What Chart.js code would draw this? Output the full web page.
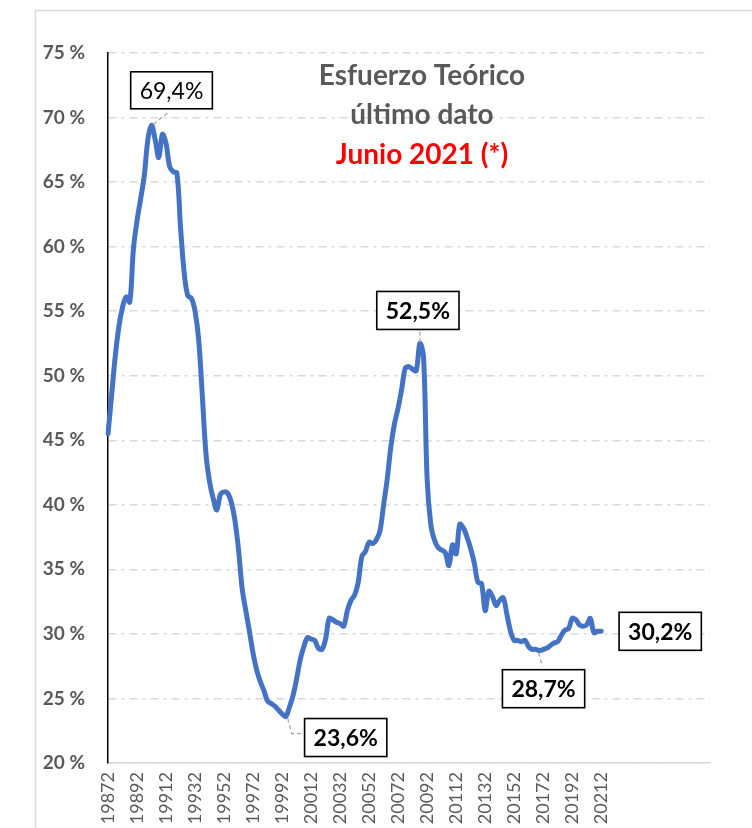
<!DOCTYPE html>
<html>
<head>
<meta charset="utf-8">
<script src="https://cdn.jsdelivr.net/npm/chart.js@4.4.0/dist/chart.umd.min.js"></script>
<style>
  html, body { margin: 0; padding: 0; background: #fff; }
  #wrap { width: 752px; height: 828px; position: relative; }
</style>
</head>
<body>
<div id="wrap"><canvas id="esfuerzo" width="752" height="828"></canvas></div>
<script>
// trimestres desde 1987 T2; el eje sigue vacio hasta 2028 T4
const firstYear = 1987, firstQuarter = 2, nQuarters = 167;
const quarters = [];
for (let k = 0; k < nQuarters; k++) {
    const q = firstQuarter - 1 + k;
    quarters.push(String(firstYear + Math.floor(q / 4)) + String(q % 4 + 1));
}

// etiquetas visibles del eje X (cada 8 trimestres)
const tickLabels = ['19872','19892','19912','19932','19952','19972','19992','20012','20032',
    '20052','20072','20092','20112','20132','20152','20172','20192','20212'];

// esfuerzo teorico (%), 1987 T2 .. 2021 T2
const esfuerzo = [
    45.5, 48.5, 51.5, 53.8, 55.3, 56.1, 55.7, 59.8, 62.0, 63.7,
    65.5, 68.3, 69.4, 68.3, 66.9, 68.7, 68.0, 66.2, 65.8, 65.7,
    61.5, 58.0, 56.2, 56.0, 55.0, 52.8, 48.5, 44.0, 41.8, 40.5,
    39.6, 40.8, 41.0, 40.9, 40.2, 38.8, 36.5, 33.5, 31.8, 30.2,
    28.5, 27.2, 26.3, 25.6, 24.8, 24.6, 24.4, 24.1, 23.8, 23.6,
    24.3, 25.2, 26.5, 28.0, 29.0, 29.7, 29.6, 29.5, 28.9, 28.8,
    29.6, 31.2, 31.1, 30.9, 30.8, 30.6, 31.8, 32.6, 33.0, 34.0,
    36.0, 36.4, 37.1, 37.0, 37.3, 38.0, 40.0, 42.0, 44.5, 46.3,
    47.5, 49.0, 50.6, 50.7, 50.5, 50.4, 52.5, 51.5, 42.0, 38.5,
    37.3, 36.7, 36.5, 36.3, 35.3, 36.9, 36.2, 38.5, 38.2, 37.5,
    36.6, 35.5, 34.0, 33.9, 31.8, 33.3, 32.9, 32.2, 32.6, 32.8,
    31.5, 30.2, 29.5, 29.5, 29.4, 29.5, 29.0, 28.8, 28.8, 28.7,
    28.8, 28.9, 29.1, 29.3, 29.4, 29.9, 30.3, 30.4, 31.2, 31.1,
    30.7, 30.6, 30.7, 31.2, 30.1, 30.2, 30.2
];

// valores destacados: indice del trimestre, texto, desplazamiento de la caja
const highlights = [
    { i: 12,  text: '69,4%', bold: false, dx: 20,  dy: -35, leader: [[2, -1], [18, -14]] },
    { i: 86,  text: '52,5%', bold: true,  dx: -2,  dy: -33, leader: [[0, -1], [0, -15]] },
    { i: 49,  text: '23,6%', bold: true,  dx: 60,  dy: 21,  leader: [[2, 2], [6, 17], [18, 17]] },
    { i: 119, text: '28,7%', bold: true,  dx: 4,   dy: 38,  leader: [[-1, 2], [3, 16]] },
    { i: 136, text: '30,2%', bold: true,  dx: 59,  dy: 0,   leader: null }
];

const titleLines = [
    { text: 'Esfuerzo Teórico', color: '#595959', y: 76 },
    { text: 'último dato', color: '#595959', y: 115 },
    { text: 'Junio 2021 (*)', color: '#ff0000', y: 155 }
];

const FONT = 'Lato, "Open Sans", sans-serif';

const framePlugin = {
    id: 'frame',
    beforeDraw(chart) {
        const ctx = chart.ctx;
        ctx.save();
        ctx.fillStyle = '#fff';
        ctx.fillRect(0, 0, chart.width, chart.height);
        ctx.strokeStyle = '#d9d9d9';
        ctx.lineWidth = 1.5;
        ctx.beginPath();
        ctx.moveTo(35.5, chart.height);
        ctx.lineTo(35.5, 10.5);
        ctx.lineTo(chart.width, 10.5);
        ctx.stroke();
        ctx.restore();
    }
};

const notesPlugin = {
    id: 'notes',
    afterDatasetsDraw(chart) {
        const ctx = chart.ctx;
        const meta = chart.getDatasetMeta(0);
        ctx.save();

        // titulo dentro del grafico
        ctx.textAlign = 'center';
        ctx.textBaseline = 'middle';
        ctx.font = 'bold 28px ' + FONT;
        titleLines.forEach(l => {
            ctx.fillStyle = l.color;
            ctx.fillText(l.text, 422, l.y);
        });

        // cajas con los valores
        highlights.forEach(h => {
            const p = meta.data[h.i];
            if (!p) return;
            const cx = p.x + h.dx, cy = p.y + h.dy;
            if (h.leader) {
                ctx.strokeStyle = '#a6a6a6';
                ctx.lineWidth = 1.3;
                ctx.setLineDash([4, 3]);
                ctx.beginPath();
                h.leader.forEach((o, k) => {
                    if (k === 0) ctx.moveTo(p.x + o[0], p.y + o[1]);
                    else ctx.lineTo(p.x + o[0], p.y + o[1]);
                });
                ctx.stroke();
                ctx.setLineDash([]);
            }
            ctx.font = (h.bold ? 'bold ' : '') + '23px ' + FONT;
            const w = ctx.measureText(h.text).width + 18;
            const bh = h.bold ? 38 : 37;
            ctx.fillStyle = '#fff';
            ctx.fillRect(cx - w / 2, cy - bh / 2, w, bh);
            ctx.strokeStyle = '#000';
            ctx.lineWidth = 1.6;
            ctx.strokeRect(cx - w / 2, cy - bh / 2, w, bh);
            ctx.fillStyle = '#000';
            ctx.fillText(h.text, cx, cy + 1);
        });
        ctx.restore();
    }
};

const ctx = document.getElementById('esfuerzo').getContext('2d');
const chart = new Chart(ctx, {
    type: 'line',
    data: {
        labels: quarters,
        datasets: [{
            label: 'Esfuerzo teórico',
            data: esfuerzo,
            borderColor: '#4472c4',
            borderWidth: 5,
            pointRadius: 0,
            tension: 0.35,
            borderCapStyle: 'round',
            borderJoinStyle: 'round',
            fill: false
        }]
    },
    options: {
        responsive: false,
        animation: false,
        devicePixelRatio: 1,
        layout: { padding: { left: 0, top: 53, right: 42, bottom: 0 } },
        scales: {
            x: {
                offset: false,
                grid: { display: false, drawTicks: false },
                border: { display: true, color: '#d9d9d9', width: 1.5 },
                ticks: {
                    autoSkip: false,
                    minRotation: 90,
                    maxRotation: 90,
                    padding: 9,
                    color: '#595959',
                    font: { family: FONT, size: 18 },
                    callback: function(value, index) {
                        return index % 8 === 0 ? (tickLabels[index / 8] || '') : '';
                    }
                },
                afterFit(scale) { scale.height = 65; }
            },
            y: {
                min: 20,
                max: 75,
                grid: { color: '#d9d9d9', lineWidth: 1.5, drawTicks: false },
                border: { display: true, color: '#000', width: 1.5, dash: [8, 5, 3, 5] },
                ticks: {
                    stepSize: 5,
                    padding: 23,
                    color: '#595959',
                    font: { family: FONT, size: 19, weight: 'bold' },
                    callback: v => v + ' %'
                },
                afterFit(scale) { scale.width = 108; }
            }
        },
        plugins: {
            legend: { display: false },
            tooltip: { enabled: false },
            title: { display: false }
        }
    },
    plugins: [framePlugin, notesPlugin]
});
</script>
</body>
</html>
